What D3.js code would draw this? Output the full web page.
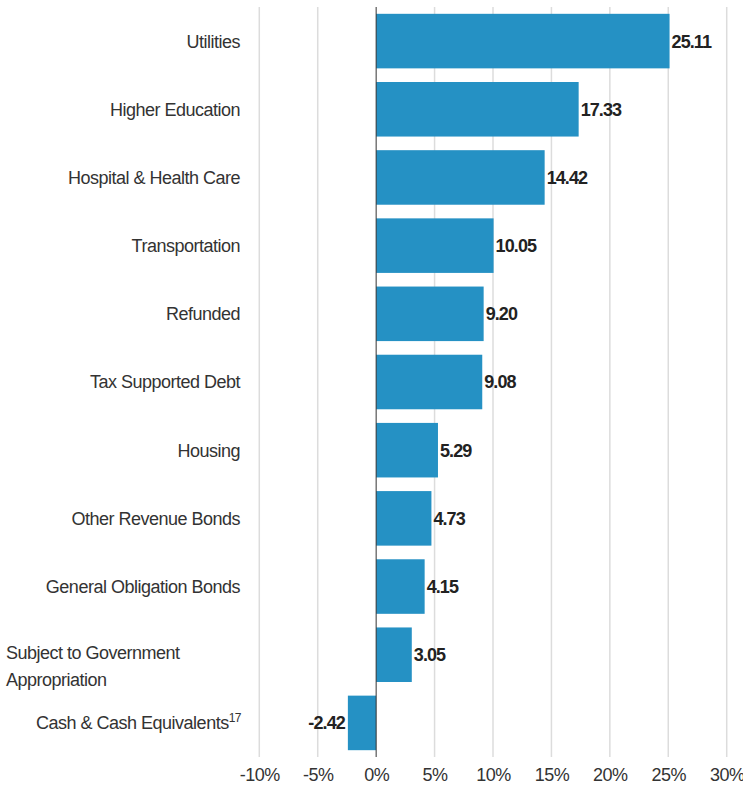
<!DOCTYPE html>
<html>
<head>
<meta charset="utf-8">
<script src="https://cdn.jsdelivr.net/npm/d3@7"></script>
<style>
  body { margin: 0; background: #fff; }
  text { font-family: "Liberation Sans", Arial, sans-serif; }
</style>
</head>
<body>
<div id="chart"></div>
<script>
// chart data
const categories = [
  "Utilities",
  "Higher Education",
  "Hospital & Health Care",
  "Transportation",
  "Refunded",
  "Tax Supported Debt",
  "Housing",
  "Other Revenue Bonds",
  "General Obligation Bonds",
  "Subject to Government Appropriation",
  "Cash & Cash Equivalents"
];
const values = [25.11, 17.33, 14.42, 10.05, 9.20, 9.08, 5.29, 4.73, 4.15, 3.05, -2.42];
const footnotes = ["", "", "", "", "", "", "", "", "", "", "17"];
const tickValues = [-10, -5, 0, 5, 10, 15, 20, 25, 30];

const width = 743;
const height = 793;

const svg = d3.select("#chart")
  .append("svg")
  .attr("width", width)
  .attr("height", height);

// scales
const x = d3.scaleLinear().domain([-10, 30]).range([259.3, 726.7]);
const y = d3.scaleBand()
  .domain(categories)
  .range([7, 757])
  .paddingInner(0.2)
  .paddingOuter(0.1);

// grid lines
svg.append("g")
  .selectAll("line")
  .data(tickValues.filter(d => d !== 0))
  .enter()
  .append("line")
  .attr("x1", d => x(d))
  .attr("x2", d => x(d))
  .attr("y1", 7)
  .attr("y2", 757)
  .attr("stroke", "#dcdcdc")
  .attr("stroke-width", 1.5);

// bars
svg.append("g")
  .selectAll("rect")
  .data(values)
  .enter()
  .append("rect")
  .attr("x", d => x(Math.min(0, d)))
  .attr("y", (d, i) => y(categories[i]))
  .attr("width", d => Math.abs(x(d) - x(0)))
  .attr("height", y.bandwidth())
  .attr("fill", "#2591c4");

// zero line
svg.append("line")
  .attr("x1", x(0))
  .attr("x2", x(0))
  .attr("y1", 7)
  .attr("y2", 757)
  .attr("stroke", "#333")
  .attr("stroke-width", 1);

// value labels
svg.append("g")
  .selectAll("text")
  .data(values)
  .enter()
  .append("text")
  .attr("x", d => d >= 0 ? x(d) + 2 : x(d) - 3)
  .attr("y", (d, i) => y(categories[i]) + y.bandwidth() / 2)
  .attr("dy", "0.36em")
  .attr("text-anchor", d => d >= 0 ? "start" : "end")
  .style("font-size", "18px")
  .style("font-weight", "bold")
  .style("letter-spacing", "-0.9px")
  .style("fill", "#222")
  .text(d => d.toFixed(2));

// category labels
const labels = svg.append("g")
  .selectAll("text")
  .data(categories)
  .enter()
  .append("text")
  .attr("y", d => y(d) + y.bandwidth() / 2)
  .style("font-size", "18px")
  .style("letter-spacing", "-0.5px")
  .style("fill", "#333");

labels.each(function(d, i) {
  const t = d3.select(this);
  if (d === "Subject to Government Appropriation") {
    // wrapped label, left aligned
    t.attr("x", 6).attr("text-anchor", "start");
    t.append("tspan").attr("x", 6).attr("dy", "0.26em").text("Subject to Government");
    t.append("tspan").attr("x", 6).attr("dy", "27px").text("Appropriation");
  } else {
    t.attr("x", 240).attr("text-anchor", "end").attr("dy", "0.36em");
    if (footnotes[i]) {
      t.attr("x", 241);
      t.append("tspan").text(d);
      t.append("tspan")
        .attr("dy", "-7")
        .style("font-size", "12px")
        .text(footnotes[i]);
    } else {
      t.text(d);
    }
  }
});

// x axis
const xAxis = svg.append("g")
  .attr("transform", "translate(0, 765)")
  .call(d3.axisBottom(x).tickValues(tickValues).tickSize(0).tickFormat(d => d + "%"));
xAxis.select(".domain").remove();
xAxis.selectAll("text")
  .style("font-size", "18px")
  .style("letter-spacing", "-0.5px")
  .style("font-family", "'Liberation Sans', Arial, sans-serif")
  .style("fill", "#333");
</script>
</body>
</html>
